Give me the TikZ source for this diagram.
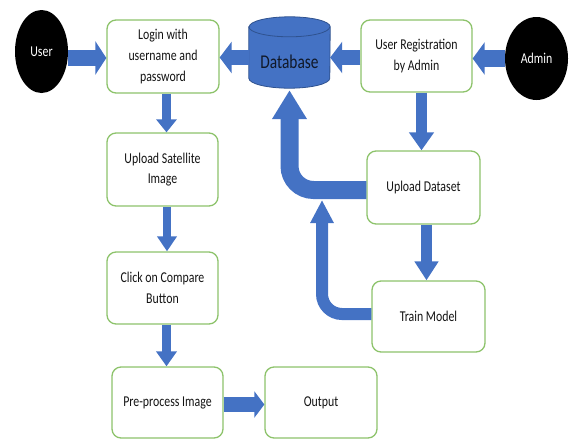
\documentclass[tikz,border=0pt]{standalone}
\usepackage{fontspec}
\setmainfont{Carlito}[FakeStretch=0.79]
\usetikzlibrary{arrows.meta,calc,shapes.geometric,backgrounds}
\definecolor{ablue}{HTML}{4472C4}
\definecolor{dbedge}{HTML}{2F528F}
\definecolor{bgreen}{HTML}{8DC36B}
\definecolor{txt}{HTML}{141414}
\definecolor{dbtxt}{HTML}{101828}
\begin{document}
\begin{tikzpicture}[x=1pt,y=-1pt,
  box/.style={draw=bgreen, line width=1.3pt, rounded corners=9pt, fill=white, align=center,
    inner sep=0pt, text=txt, font=\fontsize{15}{20.5}\selectfont},
  actor/.style={ellipse, fill=black, text=white, inner sep=0pt, font=\fontsize{15}{18}\selectfont},
  barrow/.style n args={3}{draw=ablue, line width=#1, -{Triangle[width=#2,length=#3]}},
]
\useasboundingbox (0,0) rectangle (569,439);

\node[actor, minimum width=53pt, minimum height=83pt] (user) at (41.5,51.5) {User};
\node[actor, minimum width=63pt, minimum height=83pt] (admin) at (536.5,58.5) {Admin};

\node[box, minimum width=112pt, minimum height=73pt] (login) at (163,56.5) {Login with\\username and\\password};
\node[box, minimum width=111pt, minimum height=73pt] (upsat) at (162.5,169.5) {Upload Satellite\\Image};
\node[box, minimum width=111pt, minimum height=72pt] (click) at (162.5,288) {Click on Compare\\Button};
\node[box, minimum width=111pt, minimum height=71pt] (pre) at (167.5,402.5) {Pre-process Image};
\node[box, minimum width=112pt, minimum height=71pt] (out) at (321,402.5) {Output};
\node[box, minimum width=111pt, minimum height=72pt] (reg) at (416.5,56) {User Registration\\by Admin};
\node[box, minimum width=113pt, minimum height=73pt] (upds) at (423.5,187.5) {Upload Dataset};
\node[box, minimum width=113pt, minimum height=71pt] (train) at (428.5,316.5) {Train Model};

% database cylinder
\node[minimum width=81pt, minimum height=71pt, inner sep=0pt] (db) at (289.5,52.5) {};
\begin{scope}[on background layer]
\filldraw[fill=ablue, draw=dbedge, line width=0.8pt]
  ([yshift=-10pt]db.north west) -- ([yshift=10pt]db.south west)
  arc[start angle=180, end angle=360, x radius=40.5pt, y radius=10pt]
  -- ([yshift=-10pt]db.north east)
  arc[start angle=0, end angle=180, x radius=40.5pt, y radius=10pt] -- cycle;
\draw[dbedge, line width=0.8pt] ([yshift=-10pt]db.north west)
  arc[start angle=180, end angle=360, x radius=40.5pt, y radius=10pt];
\end{scope}
\node[text=dbtxt, font=\fontsize{19.5}{22}\selectfont] (dblabel) at (289.5,62) {Database};

\coordinate (join) at (322,200);

% arrows
\draw[barrow={16pt}{33pt}{11pt}] (user.east |- 0,58) -- (login.west |- 0,58);
\draw[barrow={15pt}{31pt}{12pt}] (db.west |- 0,57.5) -- (login.east |- 0,57.5);
\draw[barrow={15pt}{31pt}{12pt}] (reg.west |- 0,57.5) -- (db.east |- 0,57.5);
\draw[barrow={17pt}{32pt}{12pt}] (admin.west |- 0,58.5) -- (reg.east |- 0,58.5);
\draw[barrow={9pt}{20pt}{13pt}] (166.5,0 |- login.south) -- (166.5,0 |- upsat.north);
\draw[barrow={8.5pt}{19pt}{15pt}] (167,0 |- upsat.south) -- (167,0 |- click.north);
\draw[barrow={9pt}{20pt}{15pt}] (166.5,0 |- click.south) -- (166.5,0 |- pre.north);
\draw[barrow={15pt}{26pt}{10pt}] (pre.east |- 0,404.5) -- (out.west |- 0,404.5);
\draw[barrow={11pt}{24pt}{18pt}] (421.5,0 |- reg.south) -- (421.5,0 |- upds.north);
\draw[barrow={11pt}{23pt}{19pt}] (426.5,0 |- upds.south) -- (426.5,0 |- train.north);
\draw[barrow={18pt}{33pt}{29pt}, rounded corners=24pt]
  (upds.west |- 0,190) -- (db.south |- 0,190) -- ([yshift=-2pt]db.south);
\draw[barrow={12pt}{22pt}{23pt}, rounded corners=20pt]
  (train.west |- 0,314) -- (join |- 0,314) -- (join);
\end{tikzpicture}
\end{document}
